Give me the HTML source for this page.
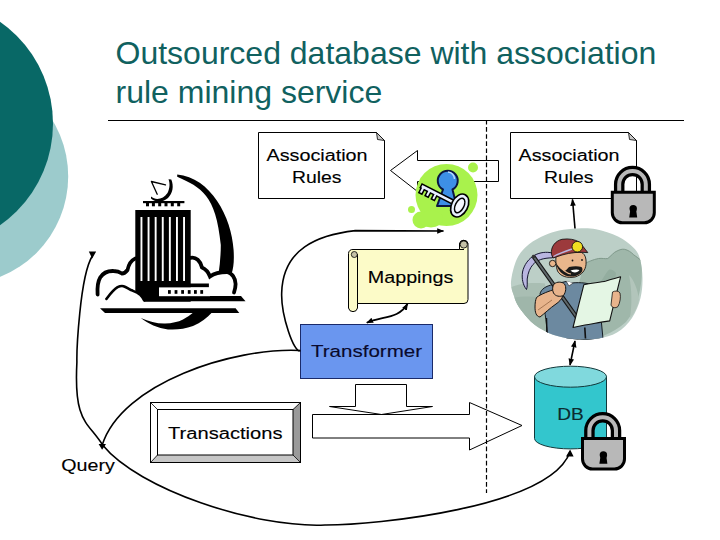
<!DOCTYPE html>
<html><head><meta charset="utf-8">
<style>
html,body{margin:0;padding:0;background:#fff;width:720px;height:540px;overflow:hidden}
svg{display:block}
text{font-family:"Liberation Sans",sans-serif}
.lbl{stroke:currentColor;stroke-width:0.12}
</style></head><body>
<svg width="720" height="540" viewBox="0 0 720 540">
<defs>
<marker id="ah" viewBox="0 0 10 10" refX="9" refY="5" markerWidth="7" markerHeight="7" orient="auto-start-reverse" markerUnits="userSpaceOnUse">
<path d="M0,1 L10,5 L0,9 Z" fill="#000"/>
</marker>

<g id="lock">
<path d="M8.4,3 V-6.5 A13.3,13.3 0 0 1 35,-6.5 V3" fill="none" stroke="#000" stroke-width="10.5"/>
<path d="M8.4,3 V-6.5 A13.3,13.3 0 0 1 35,-6.5 V3" fill="none" stroke="#b8b8b8" stroke-width="4"/>
<path d="M1.5,1.5 H43.5 V22 A10,10 0 0 1 33.5,32 H11.5 A10,10 0 0 1 1.5,22 Z" fill="#b8b8b8" stroke="#000" stroke-width="3"/>
<circle cx="22.4" cy="18" r="3.7" fill="#000"/>
<path d="M19.6,18.5 L18.4,26.8 H26.4 L25.2,18.5 Z" fill="#000"/>
</g>
</defs>
<!-- background circles -->
<circle cx="-40" cy="176.4" r="108.2" fill="#9ccbcc"/>
<circle cx="-71" cy="123.5" r="124" fill="#086866"/>

<!-- title -->
<text x="115.5" y="63.7" font-size="32" fill="#10615f">Outsourced database with association</text>
<text x="115.5" y="102.8" font-size="32" fill="#10615f">rule mining service</text>
<line x1="108" y1="120.5" x2="684" y2="120.5" stroke="#000" stroke-width="1"/>



<!-- left association rules box -->
<path d="M258.5,132.5 H376.5 L384.5,140.5 V198.5 H258.5 Z" fill="#fff" stroke="#000" stroke-width="1"/>
<path d="M376.5,132.5 L384.5,140.5 L377.5,139.5 Z" fill="#c8c8c8" stroke="#000" stroke-width="0.8"/>
<text class="lbl" x="266.5" y="160.5" font-size="16" textLength="101" lengthAdjust="spacingAndGlyphs">Association</text>
<text class="lbl" x="292" y="182.6" font-size="16" textLength="49.5" lengthAdjust="spacingAndGlyphs">Rules</text>

<!-- right association rules box -->
<path d="M510.5,132.5 H628.5 L636.5,140.5 V198.5 H510.5 Z" fill="#fff" stroke="#000" stroke-width="1"/>
<path d="M628.5,132.5 L636.5,140.5 L629.5,139.5 Z" fill="#c8c8c8" stroke="#000" stroke-width="0.8"/>
<text class="lbl" x="518.5" y="160.5" font-size="16" textLength="101" lengthAdjust="spacingAndGlyphs">Association</text>
<text class="lbl" x="544" y="182.6" font-size="16" textLength="49.5" lengthAdjust="spacingAndGlyphs">Rules</text>

<!-- left block arrow -->
<path d="M390.5,170.5 L417.5,150.5 V160.5 H498.5 V181.5 H417.5 V191.5 Z" fill="#fff" stroke="#000" stroke-width="1"/>

<!-- transformer -->
<rect x="300.5" y="324.5" width="132" height="54" fill="#6a96ef" stroke="#1a2a6a" stroke-width="1"/>
<text class="lbl" x="311" y="357.3" font-size="17" fill="#0a0a30" textLength="111" lengthAdjust="spacingAndGlyphs">Transformer</text>

<!-- down block arrow -->
<path d="M355.5,384.5 H406.5 V406.5 H432.5 L381.5,414.5 L329.5,406.5 H355.5 Z" fill="#fff" stroke="#000" stroke-width="1"/>
<!-- right big arrow -->
<path d="M312.5,414.5 H469.5 V402.5 L522,425.5 L469.5,450 V438 H312.5 Z" fill="#fff" stroke="#000" stroke-width="1"/>

<!-- dashed vertical -->
<line x1="486.5" y1="120" x2="486.5" y2="493" stroke="#000" stroke-width="1.2" stroke-dasharray="4.6,2.5"/>

<!-- transactions bevel -->
<rect x="150.5" y="402.5" width="150" height="60" fill="#fff" stroke="#000" stroke-width="1"/>
<path d="M293,409.5 L300,402.5 V462 L293,455 Z" fill="#9a9a9a"/>
<path d="M157,455 H293 L300,462 H151 Z" fill="#c6c6c6"/>
<path d="M151,403 L157.5,409.5 M300,403 L293,409.5 M151,462 L157.5,455 M300,462 L293,455" stroke="#000" stroke-width="0.8"/>
<rect x="157.5" y="409.5" width="135.5" height="45.5" fill="#fff" stroke="#000" stroke-width="1"/>
<text class="lbl" x="168" y="438.5" font-size="16" textLength="114.5" lengthAdjust="spacingAndGlyphs">Transactions</text>

<!-- Query -->
<text class="lbl" x="61.3" y="470.5" font-size="16" textLength="53.5" lengthAdjust="spacingAndGlyphs">Query</text>


<!-- mappings scroll -->
<path d="M353,249.5 H459.5 V244 A4.3,4.3 0 0 1 468,244 V299.5 A4,4 0 0 1 464,303.5 H357.5 V308 A4.6,4.6 0 0 1 348.5,308 V253.5 A4,4 0 0 1 353,249.5 Z" fill="#fcfbc8" stroke="#000" stroke-width="1"/>
<path d="M357.5,303.5 V254" fill="none" stroke="#000" stroke-width="1"/>
<path d="M459.5,249.5 H464 M468,244 A4.3,4.3 0 0 0 459.5,244" fill="none" stroke="#000" stroke-width="1"/>
<circle cx="463.8" cy="244.5" r="3.6" fill="#c5c2a8" stroke="#000" stroke-width="0.8"/>
<circle cx="354.3" cy="254.5" r="3" fill="#c5c2a8" stroke="#000" stroke-width="0.8"/>
<text class="lbl" x="367.8" y="282.8" font-size="17" textLength="85.5" lengthAdjust="spacingAndGlyphs">Mappings</text>

<!-- DB cylinder -->
<path d="M534.5,376.7 V438.4 A36,10.5 0 0 0 606.5,438.4 V376.7 Z" fill="#33c6cd" stroke="#12383a" stroke-width="1"/>
<ellipse cx="570.5" cy="376.7" rx="36" ry="10.5" fill="#80d9dd" stroke="#12383a" stroke-width="1"/>
<text class="lbl" x="557.3" y="419.8" font-size="17" fill="#0c2c30" textLength="26.5" lengthAdjust="spacingAndGlyphs">DB</text>

<!-- locks -->
<use href="#lock" transform="translate(610.8,190.8)"/>
<use href="#lock" transform="translate(581,437)"/>


<!-- key icon -->
<g>
<circle cx="446.5" cy="195" r="31" fill="#a9f24c"/>
<circle cx="473" cy="167.5" r="5" fill="#a9f24c"/>
<circle cx="411.5" cy="209.5" r="3.5" fill="#a9f24c"/>
<circle cx="421" cy="220" r="8.5" fill="#a9f24c"/>
<ellipse cx="431" cy="219" rx="12" ry="8.5" fill="#a9f24c"/>
<path d="M443,189.5 A10,10 0 1 1 452.5,189.5 L456.5,206 H437 Z" fill="#3d8fe6" stroke="#0b1640" stroke-width="2" stroke-linejoin="round"/>
<path d="M448,172 A7,7 0 0 1 454.5,179" fill="none" stroke="#b8dcff" stroke-width="1.5"/>
<g transform="translate(421.8,186.2) rotate(27)">
<path d="M-1.5,-2.8 H36 V2.8 H18.5 V7.8 H13.5 V2.8 H11.5 V7.8 H6.5 V2.8 H4.5 V7.8 H-0.5 V2.8 H-1.5 Z" fill="#000"/>
<path d="M0,-1.3 H35 V1.3 H17 V6.2 H15 V1.3 H10 V6.2 H8 V1.3 H3 V6.2 H1 V1.3 H0 Z" fill="#e8f0ff"/>
<ellipse cx="42.5" cy="0" rx="9" ry="13" fill="#000"/>
<ellipse cx="42.5" cy="0" rx="7.3" ry="11.3" fill="#e8f0ff"/>
<ellipse cx="42.5" cy="0" rx="5" ry="8.6" fill="#000"/>
<ellipse cx="42.5" cy="0" rx="3.5" ry="7.1" fill="#f4f6ff"/>
</g>
</g>

<!-- building clipart -->
<g fill="#000">
<path d="M177.2,174.6 C210.3,177.2 232,217.6 233.6,250 C234.3,261 233.5,268 231.5,274 L218.5,274 C220,264 220.8,254 220.8,245 C216,194.4 201.1,187.6 177.2,176.8 Z"/>
<rect x="135.3" y="210" width="55.4" height="91.7"/>
<rect x="190" y="283.5" width="18.9" height="3.9"/>
<path d="M143.9,296.1 H241 L245.5,301.3 H143.9 Z"/>
<rect x="143" y="201" width="41.4" height="2.2"/>
<rect x="146" y="203" width="3" height="3.3"/><rect x="151.9" y="203" width="3" height="3.3"/><rect x="158.2" y="203" width="3" height="3.3"/><rect x="164.5" y="203" width="3" height="3.3"/><rect x="170.8" y="203" width="3" height="3.3"/><rect x="177.2" y="203" width="3" height="3.3"/>
<path d="M100,308.3 H235.6 L239.3,313.1 H105 Z"/>
<path d="M140.8,318 C149,321.5 157,323.8 165,323.6 C172,323.3 178,322 183,319.5 C187,317.5 190,315 193,312.8 L211.7,312.8 C207,318 201,322.5 193,326 C185,329 176,330 168,329.4 C158,328.4 148,323.5 140.8,318 Z"/>
<path d="M151,196.5 C156,201 163.5,199 167.5,193 C170,188 170,183 168.5,179.2 L171.3,179.6 C174,186 172.8,193.5 168,198 C162.5,202.8 155,202.3 151,198.5 Z"/>
</g>
<g fill="#fff">
<rect x="140.5" y="217" width="1.9" height="64"/><rect x="147.6" y="217" width="1.9" height="64"/><rect x="154.7" y="217" width="1.9" height="64"/><rect x="161.8" y="217" width="1.9" height="64"/><rect x="168.9" y="217" width="1.9" height="64"/><rect x="176" y="217" width="1.9" height="64"/><rect x="183.1" y="217" width="1.9" height="64"/>
<rect x="159" y="287.4" width="51" height="8.8"/>
</g>
<g fill="#000">
<rect x="168" y="290.1" width="2.8" height="3.7"/><rect x="174.6" y="290.1" width="2.8" height="3.7"/><rect x="181.2" y="290.1" width="2.8" height="3.7"/><rect x="187.8" y="290.1" width="2.8" height="3.7"/><rect x="194" y="290.1" width="2.8" height="3.7"/><rect x="200.3" y="290.1" width="2.8" height="3.7"/>
</g>
<path d="M106.4,298.9 C109,295.5 113,290 117.6,287.2 C120,286 122,285.8 123.5,286.2 C126,287 128,288.5 131,290 C134.5,291.5 137.5,292.5 139.8,294.4 C141.5,296 143,298 144.2,300.5 V306 H100 Z" fill="#fff"/>
<g fill="none" stroke="#000" stroke-linecap="round">
<path d="M106.4,298.9 C109,295.5 113,290 117.6,287.2 C120,286 122,285.8 123.5,286.2 C126,287 128,288.5 131,290 C134.5,291.5 137.5,292.5 139.8,294.4 C141.5,296 143,298 144.2,300.5" stroke-width="2.6"/>
<path d="M135,258.6 C131,260.5 128.5,265 127.5,270 C126,272 124,273.5 122,273.5 C119,271.5 116.5,271 113.5,271 C108,270.8 103,273 100.2,277.5 C97.8,281.5 97.2,288 97.6,294.5" stroke-width="3.8"/>
<path d="M190.5,257.8 C196,256.5 200.5,261 202,267.5 C205.5,269 208.5,272.5 210,276.5 C214,273.5 220,272 227,272 C232,273 235.5,278 235.6,284 C235.6,287.5 234.8,290 234,292.5" stroke-width="3.8"/>
<path d="M151.4,181.5 L165.5,184.9 M151.4,181.5 L157.2,194.2" stroke-width="1.3"/>
</g>


<!-- miner clipart -->
<g stroke-linejoin="round">
<defs><clipPath id="mclip"><path d="M511.0,282.0 C510.5,288.2 512.6,291.7 514.0,296.0 C515.4,300.3 516.3,303.1 519.4,307.7 C522.5,312.2 528.3,319.3 532.7,323.3 C537.1,327.3 541.6,329.6 546.0,331.8 C550.4,334.0 554.0,335.3 559.2,336.6 C564.4,337.9 570.7,339.3 577.2,339.6 C583.8,339.9 591.9,339.7 598.5,338.5 C605.1,337.3 611.4,336.0 617.0,332.6 C622.6,329.2 628.1,323.8 632.0,318.0 C635.9,312.2 638.8,304.7 640.5,298.0 C642.2,291.3 642.6,284.5 642.5,278.0 C642.4,271.5 641.5,264.0 640.0,259.0 C638.5,254.0 637.5,251.8 633.8,248.0 C630.1,244.2 624.3,239.6 618.0,236.5 C611.7,233.4 602.8,230.5 596.0,229.2 C589.2,227.8 583.4,228.2 577.3,228.4 C571.2,228.6 564.6,229.3 559.2,230.4 C553.8,231.5 549.7,232.9 544.7,235.2 C539.7,237.5 533.6,240.4 529.0,244.3 C524.4,248.2 520.0,252.4 517.0,258.7 C514.0,265.0 511.5,275.8 511.0,282.0 Z"/></clipPath></defs>
<path d="M511.0,282.0 C510.5,288.2 512.6,291.7 514.0,296.0 C515.4,300.3 516.3,303.1 519.4,307.7 C522.5,312.2 528.3,319.3 532.7,323.3 C537.1,327.3 541.6,329.6 546.0,331.8 C550.4,334.0 554.0,335.3 559.2,336.6 C564.4,337.9 570.7,339.3 577.2,339.6 C583.8,339.9 591.9,339.7 598.5,338.5 C605.1,337.3 611.4,336.0 617.0,332.6 C622.6,329.2 628.1,323.8 632.0,318.0 C635.9,312.2 638.8,304.7 640.5,298.0 C642.2,291.3 642.6,284.5 642.5,278.0 C642.4,271.5 641.5,264.0 640.0,259.0 C638.5,254.0 637.5,251.8 633.8,248.0 C630.1,244.2 624.3,239.6 618.0,236.5 C611.7,233.4 602.8,230.5 596.0,229.2 C589.2,227.8 583.4,228.2 577.3,228.4 C571.2,228.6 564.6,229.3 559.2,230.4 C553.8,231.5 549.7,232.9 544.7,235.2 C539.7,237.5 533.6,240.4 529.0,244.3 C524.4,248.2 520.0,252.4 517.0,258.7 C514.0,265.0 511.5,275.8 511.0,282.0 Z" fill="#bccfc7"/>
<g clip-path="url(#mclip)">
<path d="M583.7,264 C588,262 593,259.5 598.5,258.5 C602,258 605,259 607.8,258.5 C611,256 614,252 617,251 C620,249.5 622,249 624.4,249.3 C628,250 631,252 633.7,254.8 C636,256.5 638.5,258 641.5,261 C643,280 640,305 626,322 C612,334 598,339.5 582,339.8 L575,300 Z" fill="#9fb7aa"/>
<path d="M600,283 C604,277 607,271 609.6,269.6 C612.5,269.5 614,271 616,273 L612,300 L600,300 Z" fill="#93ad9f"/>
<path d="M629,275 C634,280 638,290 639,300 C637,308 634,314 630,318 C632,305 632,290 629,275 Z" fill="#b2c5bb"/>
<path d="M583.7,264 C588,262 593,259.5 598.5,258.5 C602,258 605,259 607.8,258.5 C611,256 614,252 617,251 C620,249.5 622,249 624.4,249.3 C628,250 631,252 633.7,254.8 C636,256.5 638.5,258 641.5,261" fill="none" stroke="#7a9486" stroke-width="0.9"/>
<path d="M511.5,287 C518,284 530,282 545,283.5 L549,333 C536,327 523,317 516,305 C513,299 511.5,293 511.5,287 Z" fill="#a9beb3"/>
<path d="M513,298 C523,296 538,296 549,299 L549,333 C536,327 524,318 517,308 Z" fill="#9fb6aa"/>
<!-- shirt -->
<path d="M540,294 C541,289 546,286 553,284.5 L566,281.5 L572,283 C580,282 590,283 598,287 L603,338.8 C590,340.5 575,340 562,338.5 C555,337.5 550,336 547,333 C546.5,322 545,308 540,294 Z" fill="#6c89a0" stroke="#151c22" stroke-width="1"/>
<path d="M566,281 L569,286 L573,283" fill="#fff" stroke="#222" stroke-width="0.6"/>
<!-- pick head -->
<path d="M552.5,253 C546,251.5 540,252.5 535,255 C528.5,258.5 524,265 522.5,272 C521.5,279 523,285 526.5,289.5 C527.5,287 527.2,283 527.2,279 C528,272.5 530,268 533,264.5 C537,260 543,258 552.5,257.8 Z" fill="#b9b6e0" stroke="#151530" stroke-width="1"/>
<!-- pick handle -->
<path d="M533.5,256.5 L578,319" stroke="#151515" stroke-width="4"/>
<path d="M533.5,256.5 L578,319" stroke="#5f686b" stroke-width="2"/>
<circle cx="533.5" cy="256.5" r="1.8" fill="#333"/>
<!-- arm -->
<path d="M536.5,297.5 C541,294 549,291 556,289 L563,289 C565,294 562,300 556,304 C550,308 544,314 540,317 C536,316.5 535,312 535,307 C535,303 535.5,300 536.5,297.5 Z" fill="#e8b48c" stroke="#151515" stroke-width="1"/>
<path d="M538,310 L552,300" stroke="#8a5a3a" stroke-width="0.7"/>
<path d="M554,284 C557,281.5 562,281.5 564.5,284 C566.5,287 566,292 563.5,295.5 C560,297 555.5,296.5 553.5,293 C552,290 552.5,286 554,284 Z" fill="#e8b48c" stroke="#151515" stroke-width="1"/>
<!-- head -->
<path d="M556,256 C559,252 570,251 580,252 C585,253 586.5,258 586,264.5 C585.5,270 582,275 575,277 C567,278.5 560,276 557.5,271 C556,267 555.5,261 556,256 Z" fill="#e9b68c" stroke="#151515" stroke-width="0.9"/>
<circle cx="552.6" cy="263.5" r="3.2" fill="#e9b68c" stroke="#151515" stroke-width="0.9"/>
<path d="M556,263 C557,268.5 560.5,273.5 566,275.8 C571,277.5 577,276.5 581,273 C582.8,271 583,268.5 581.5,267 C578,265.8 573,266 569,267 C567.5,268.5 566,270.5 564.5,271 C561.5,270 558.5,267 556,263 Z" fill="#1a1a1a"/>
<path d="M570.5,270.5 C573.5,269.5 577.5,269 579.5,270 C578,272.8 573,273.5 570.5,270.5 Z" fill="#fff"/>
<path d="M563,270 C566,272 568,274 571,274" fill="none" stroke="#e9b68c" stroke-width="1.2"/>
<circle cx="572.5" cy="260.5" r="0.9" fill="#151515"/><circle cx="582" cy="260" r="0.9" fill="#151515"/>
<!-- hat -->
<path d="M551.5,254.5 C550.5,247 555,241 562,239.3 C569,238.3 575,239.5 579,242 C582,245 585,249 587.8,252.6 C580,251.8 570,252.5 562,255 L553,258 Z" fill="#9c3a3c" stroke="#151515" stroke-width="0.9"/>
<path d="M553.5,256.5 C560,253 566,251 572,249" fill="none" stroke="#b9b6e0" stroke-width="1.4"/>
<circle cx="577.3" cy="246.7" r="5.3" fill="#f1dd22" stroke="#151515" stroke-width="0.9"/>
<!-- map -->
<path d="M583.8,284.8 C592,283 600,282.5 606,281 C611,279.5 616,278 620.6,276.8 L609.7,320.9 C600,322 592,324 585,325 L573,327.5 Z" fill="#e4f6e4" stroke="#111" stroke-width="1.1"/>
<path d="M612.5,292 C615,290.5 619,290.8 620,293 C621,297 620,303 618,306.5 C615.5,308.5 612,308 611,305 Z" fill="#e8b48c" stroke="#151515" stroke-width="0.8"/>
<path d="M584.8,327.5 L585.5,338.5" stroke="#111" stroke-width="1.6"/>
<path d="M546.5,318 L547,333" stroke="#111" stroke-width="1.4"/>
</g>
</g>

<!-- curves -->
<path d="M88.8,251.6 L96.2,251.6 L92.2,258.4 Z M98.6,444 L106,444 L102.1,449.8 Z M566,456.6 L573.6,456.6 L570.1,449.6 Z" fill="#000"/>
<g fill="none" stroke="#000" stroke-width="1.6">
<path d="M300.3,350.5 C233.7,347.1 121.8,382.9 102.2,445"/>
<path d="M300.3,350.5 C294.2,354.4 280.8,314.7 281.7,292.5 C283,249 317.2,234.9 355.3,230.6 L443.5,231" marker-end="url(#ah)"/>
<path d="M92.3,256 C79.5,276.9 76.7,353.3 76.9,362 C73.7,423.2 87.6,421.1 102.8,445.3 C138.6,489.2 254.3,528.1 325,525 C374.4,525.2 550.5,507.7 570.2,451.5"/>
<path d="M366.8,322.8 C382,316 399,319 407.5,303.8" stroke-width="1.8" marker-start="url(#ah)" marker-end="url(#ah)"/>
<path d="M575,341 L570,365" marker-start="url(#ah)" marker-end="url(#ah)"/>
<path d="M575,228.5 L572.5,199.5" marker-end="url(#ah)"/>
</g>
</svg>
</body></html>
